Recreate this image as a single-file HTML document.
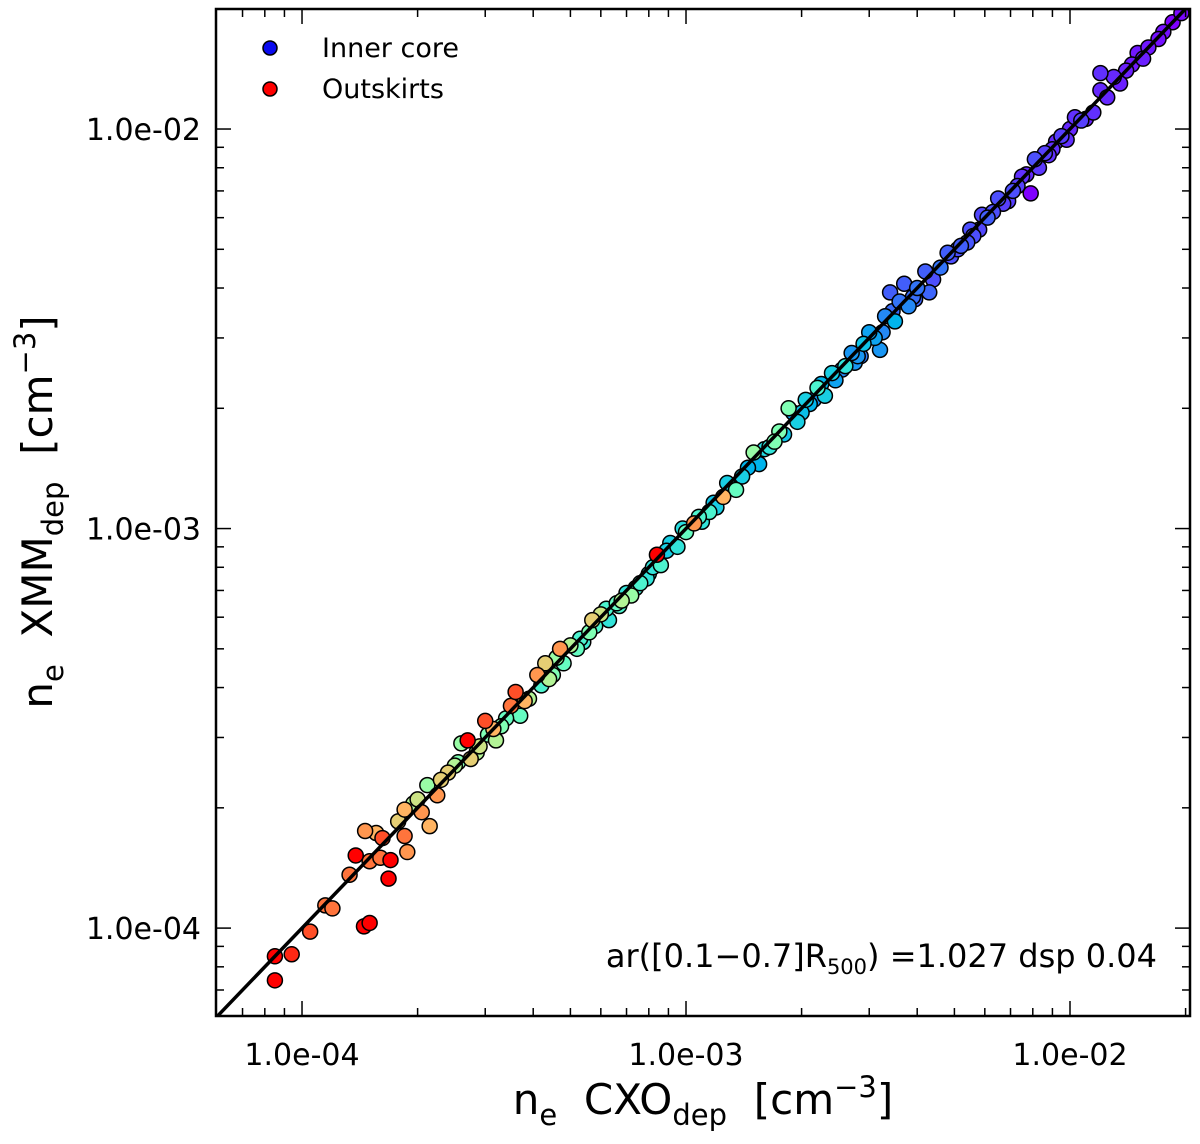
<!DOCTYPE html>
<html><head><meta charset="utf-8">
<style>
html,body{margin:0;padding:0;background:#fff;}
svg{display:block;font-family:"DejaVu Sans","Liberation Sans",sans-serif;}
text{white-space:pre;}
</style></head>
<body>
<svg id="chart" width="1200" height="1144" viewBox="0 0 1200 1144" xmlns="http://www.w3.org/2000/svg">
<g id="marks"></g>
<g id="axes"></g>
<g>
  <circle cx="270" cy="48" r="7" fill="#0a0af0" stroke="#000" stroke-width="1.5"/>
  <text x="322" y="57" font-size="27">Inner core</text>
  <circle cx="270" cy="89" r="7" fill="#f00" stroke="#000" stroke-width="1.5"/>
  <text x="322" y="98" font-size="27">Outskirts</text>
</g>
<text x="1157" y="967" font-size="32" text-anchor="end">ar([0.1−0.7]R<tspan font-size="21" dy="7">500</tspan><tspan dy="-7">) =1.027 dsp 0.04</tspan></text>
<text x="703" y="1114" font-size="42" text-anchor="middle">n<tspan font-size="29" dy="11">e</tspan><tspan dy="-11">  CXO</tspan><tspan font-size="29" dy="11">dep</tspan><tspan dy="-11">  [cm</tspan><tspan font-size="29" dy="-17">−3</tspan><tspan dy="17">]</tspan></text>
<text transform="translate(52,512) rotate(-90)" font-size="42" text-anchor="middle">n<tspan font-size="29" dy="11">e</tspan><tspan dy="-11">  XMM</tspan><tspan font-size="29" dy="11">dep</tspan><tspan dy="-11">  [cm</tspan><tspan font-size="29" dy="-17">−3</tspan><tspan dy="17">]</tspan></text>
</svg>
<script>
const cxo = [8.5e-5,8.5e-5,9.4e-5,1.05e-4,1.15e-4,1.2e-4,1.45e-4,1.5e-4,1.33e-4,1.38e-4,1.5e-4,1.6e-4,1.7e-4,1.68e-4,1.46e-4,1.56e-4,1.62e-4,1.78e-4,1.85e-4,1.88e-4,1.85e-4,1.95e-4,2.05e-4,2.15e-4,2.12e-4,2.25e-4,2.4e-4,2.5e-4,2.6e-4,2.7e-4,2.75e-4,2.85e-4,3e-4,3.05e-4,3.15e-4,3.2e-4,3.5e-4,3.6e-4,3.7e-4,3.9e-4,4.1e-4,4.3e-4,4.5e-4,4.7e-4,4.8e-4,5.0e-4,5.3e-4,5.6e-4,5.8e-4,6.0e-4,6.3e-4,6.6e-4,7.0e-4,7.2e-4,7.6e-4,7.9e-4,8.4e-4,8.6e-4,9.1e-4,9.5e-4,1.0e-3,1.05e-3,1.1e-3,1.15e-3,1.2e-3,1.25e-3,1.35e-3,1.4e-3,1.5e-3,1.55e-3,1.65e-3,1.75e-3,1.85e-3,1.95e-3,2.1e-3,2.2e-3,2.3e-3,2.45e-3,2.6e-3,2.75e-3,2.9e-3,3.1e-3,3.2e-3,3.3e-3,3.4e-3,3.5e-3,3.6e-3,3.8e-3,4.0e-3,4.2e-3,4.3e-3,4.6e-3,4.9e-3,5.2e-3,5.5e-3,5.8e-3,6.1e-3,6.5e-3,6.9e-3,7.3e-3,7.7e-3,8.1e-3,8.6e-3,9.0e-3,9.5e-3,1.0e-2,1.07e-2,1.15e-2,1.2e-2,1.3e-2,1.4e-2,1.5e-2,1.6e-2,1.75e-2,1.85e-2,1.2e-2,7.9e-3,2.0e-4,3.3e-4,5.4e-4,8.0e-4,1.3e-3,2.0e-3,2.8e-3,3.9e-3,5.6e-3,9.8e-3,1.35e-2,6.7e-4,4.4e-4,
2.3e-4,2.55e-4,2.9e-4,3.4e-4,3.8e-4,4.2e-4,4.6e-4,5.2e-4,5.7e-4,6.2e-4,6.8e-4,7.4e-4,8.2e-4,8.9e-4,9.8e-4,1.08e-3,1.18e-3,1.28e-3,1.45e-3,1.6e-3,1.7e-3,1.8e-3,1.9e-3,2.05e-3,2.15e-3,2.25e-3,2.4e-3,2.55e-3,2.7e-3,2.85e-3,3.0e-3,3.25e-3,3.45e-3,3.7e-3,3.95e-3,4.4e-3,4.8e-3,5.1e-3,5.4e-3,5.9e-3,6.3e-3,6.7e-3,7.1e-3,7.5e-3,8.3e-3,8.8e-3,9.2e-3,1.03e-2,1.1e-2,1.25e-2,1.45e-2,1.55e-2,1.7e-2,1.95e-2];
const xmm = [8.5e-5,7.4e-5,8.6e-5,9.8e-5,1.14e-4,1.12e-4,1.01e-4,1.03e-4,1.36e-4,1.52e-4,1.47e-4,1.5e-4,1.48e-4,1.33e-4,1.75e-4,1.73e-4,1.68e-4,1.85e-4,1.7e-4,1.55e-4,1.98e-4,2.05e-4,1.95e-4,1.8e-4,2.28e-4,2.15e-4,2.45e-4,2.55e-4,2.9e-4,2.95e-4,2.65e-4,2.75e-4,3.3e-4,3.05e-4,3.15e-4,2.95e-4,3.6e-4,3.9e-4,3.4e-4,3.75e-4,4.3e-4,4.6e-4,4.3e-4,5.0e-4,4.6e-4,5.1e-4,5.3e-4,5.5e-4,5.7e-4,6.1e-4,5.9e-4,6.5e-4,6.9e-4,6.8e-4,7.3e-4,7.5e-4,8.6e-4,8.1e-4,9.2e-4,9.0e-4,9.8e-4,1.03e-3,1.04e-3,1.1e-3,1.13e-3,1.2e-3,1.25e-3,1.35e-3,1.55e-3,1.45e-3,1.6e-3,1.75e-3,2.0e-3,1.85e-3,2.05e-3,2.25e-3,2.15e-3,2.35e-3,2.55e-3,2.6e-3,2.9e-3,3.0e-3,2.8e-3,3.4e-3,3.9e-3,3.3e-3,3.7e-3,3.6e-3,4.0e-3,4.4e-3,3.9e-3,4.5e-3,4.8e-3,5.1e-3,5.6e-3,5.6e-3,6.0e-3,6.7e-3,6.6e-3,7.2e-3,7.7e-3,8.4e-3,8.7e-3,8.9e-3,9.6e-3,1.0e-2,1.05e-2,1.1e-2,1.25e-2,1.35e-2,1.4e-2,1.55e-2,1.6e-2,1.75e-2,1.85e-2,1.38e-2,6.9e-3,2.1e-4,3.2e-4,5.2e-4,7.7e-4,1.27e-3,1.95e-3,2.7e-3,3.8e-3,5.4e-3,9.4e-3,1.3e-2,6.4e-4,4.2e-4,
2.35e-4,2.6e-4,2.85e-4,3.35e-4,3.7e-4,4.05e-4,4.75e-4,5.0e-4,5.9e-4,6.3e-4,6.6e-4,7.1e-4,8.0e-4,8.8e-4,1.0e-3,1.07e-3,1.16e-3,1.3e-3,1.42e-3,1.58e-3,1.65e-3,1.72e-3,1.95e-3,2.1e-3,2.1e-3,2.3e-3,2.45e-3,2.5e-3,2.75e-3,2.7e-3,3.1e-3,3.1e-3,3.5e-3,4.1e-3,3.75e-3,4.2e-3,4.9e-3,5.0e-3,5.2e-3,6.1e-3,6.2e-3,6.5e-3,7.0e-3,7.6e-3,8.0e-3,8.6e-3,9.3e-3,1.07e-2,1.06e-2,1.2e-2,1.45e-2,1.5e-2,1.68e-2,1.95e-2];
const colourVal = [1,1,.95,.9,.85,.85,1,1,.85,1,.85,.85,1,1,.8,.75,.9,.7,.85,.8,.75,.6,.8,.75,.55,.8,.7,.6,.55,1,.7,.6,.9,.5,.75,.6,.85,.9,.45,.6,.8,.7,.5,.8,.45,.6,.4,.5,.4,.65,.35,.45,.35,.55,.4,.35,1,.4,.3,.35,.45,.8,.35,.4,.3,.75,.45,.3,.55,.25,.35,.5,.5,.3,.25,.4,.3,.22,.35,.2,.28,.22,.2,.18,.12,.25,.15,.18,.15,.12,.13,.15,.1,.12,.1,.09,.12,.1,.08,.08,.05,.1,.08,.06,.08,.05,.08,.06,.05,.05,.04,.03,.03,.02,0,.06,0,.65,.5,.38,.33,.3,.27,.2,.14,.1,.06,.04,.4,.6,
.7,.5,.65,.45,.75,.4,.55,.45,.7,.4,.6,.38,.35,.3,.33,.4,.28,.3,.25,.32,.5,.28,.22,.3,.2,.25,.3,.18,.2,.16,.22,.18,.14,.12,.13,.1,.12,.1,.11,.09,.1,.08,.1,.06,.07,.06,.05,.06,.04,.05,.03,.04,.02,.01];
const xTicks = [1e-4,1e-3,1e-2];
const yTicks = [1e-4,1e-3,1e-2];
const xTickLabels = ["1.0e-04","1.0e-03","1.0e-02"];
const yTickLabels = ["1.0e-04","1.0e-03","1.0e-02"];

const L=216,R=1190,T=9,B=1016;
const xMin=-4.224,xMax=-1.6875,yMin=-4.22,yMax=-1.6996;
function sx(v){return L+(Math.log10(v)-xMin)/(xMax-xMin)*(R-L);}
function sy(v){return B-(Math.log10(v)-yMin)/(yMax-yMin)*(B-T);}
function rainbow(c){
  let r=Math.min(1,Math.abs(2*c-0.5)),g=Math.sin(Math.PI*c),b=Math.cos(Math.PI*c/2);
  return `rgb(${Math.round(r*255)},${Math.round(g*255)},${Math.round(Math.max(0,b)*255)})`;
}
const NS="http://www.w3.org/2000/svg";
const marks=document.getElementById('marks');
const axes=document.getElementById('axes');
const order=cxo.map((_,i)=>i).sort((a,b)=>colourVal[a]-colourVal[b]);
order.forEach(i=>{
  const c=document.createElementNS(NS,'circle');
  
  
  c.setAttribute('cx',sx(cxo[i]));c.setAttribute('cy',sy(xmm[i]));
  c.setAttribute('r',7.5);c.setAttribute('fill',rainbow(colourVal[i]));
  c.setAttribute('stroke','#000');c.setAttribute('stroke-width',1.5);
  marks.appendChild(c);
});
const ln=document.createElementNS(NS,'line');


const lo=Math.pow(10,xMin),hi=Math.pow(10,xMax);
ln.setAttribute('x1',sx(lo));ln.setAttribute('y1',sy(lo));
ln.setAttribute('x2',sx(hi));ln.setAttribute('y2',sy(hi));
ln.setAttribute('stroke','#000');ln.setAttribute('stroke-width',3.5);
marks.appendChild(ln);
const cp=document.createElementNS(NS,'clipPath');cp.id='pc';
const cr=document.createElementNS(NS,'rect');cr.setAttribute('x',L);cr.setAttribute('y',T);cr.setAttribute('width',R-L);cr.setAttribute('height',B-T);
cp.appendChild(cr);document.getElementById('chart').appendChild(cp);
marks.setAttribute('clip-path','url(#pc)');
const fr=document.createElementNS(NS,'rect');


fr.setAttribute('x',L);fr.setAttribute('y',T);fr.setAttribute('width',R-L);fr.setAttribute('height',B-T);
fr.setAttribute('fill','none');fr.setAttribute('stroke','#000');fr.setAttribute('stroke-width',2.5);
axes.appendChild(fr);
function tick(x1,y1,x2,y2){
  const t=document.createElementNS(NS,'line');
  
  
  t.setAttribute('x1',x1);t.setAttribute('y1',y1);t.setAttribute('x2',x2);t.setAttribute('y2',y2);
  t.setAttribute('stroke','#000');t.setAttribute('stroke-width',1.5);axes.appendChild(t);
}
for(let e=-5;e<=-1;e++){for(let m=1;m<10;m++){
  const v=m*Math.pow(10,e);const len=m==1?15:8;
  const x=sx(v);if(x>L+1&&x<R-1){tick(x,B,x,B-len);tick(x,T,x,T+len);}
  const y=sy(v);if(y>T+1&&y<B-1){tick(L,y,L+len,y);tick(R,y,R-len,y);}
}}
xTicks.forEach((v,i)=>{
  const t=document.createElementNS(NS,'text');
  
  
  t.setAttribute('x',sx(v));t.setAttribute('y',1065);t.setAttribute('font-size',30);t.setAttribute('text-anchor','middle');
  t.textContent=xTickLabels[i];axes.appendChild(t);
});
yTicks.forEach((v,i)=>{
  const t=document.createElementNS(NS,'text');
  
  
  t.setAttribute('x',201);t.setAttribute('y',sy(v)+11);t.setAttribute('font-size',30);t.setAttribute('text-anchor','end');
  t.textContent=yTickLabels[i];axes.appendChild(t);
});
</script>
</body></html>
